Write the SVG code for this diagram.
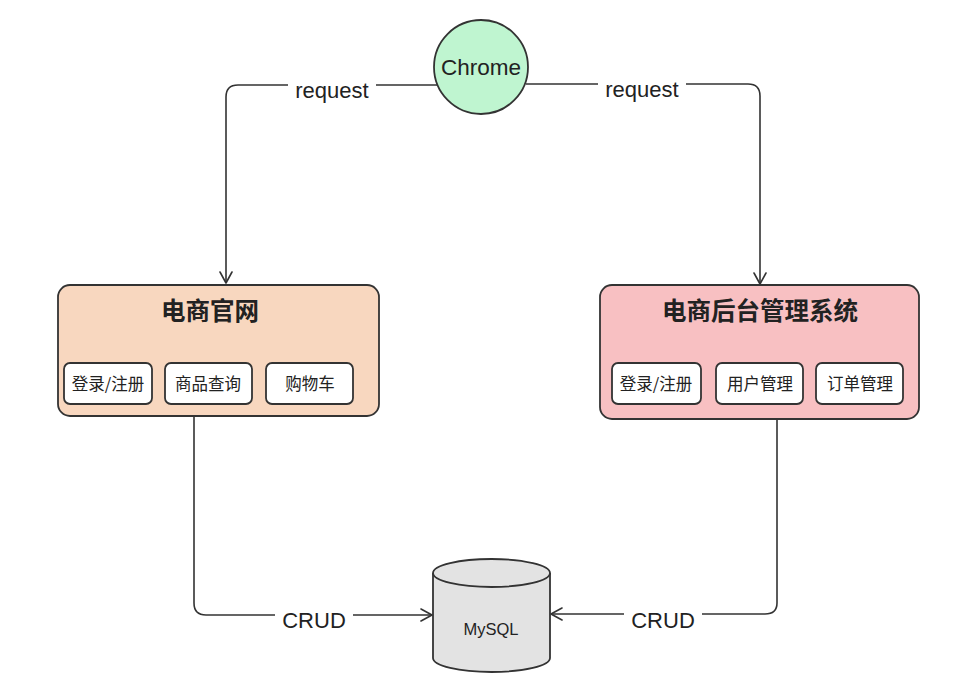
<svg xmlns="http://www.w3.org/2000/svg" width="960" height="696" viewBox="0 0 960 696">
<defs>
<marker id="arr" markerWidth="14" markerHeight="14" refX="12" refY="7" orient="auto" markerUnits="userSpaceOnUse">
<path d="M1,1 L12,7 L1,13" fill="none" stroke="#333" stroke-width="1.6" stroke-linecap="round" stroke-linejoin="round"/>
</marker>
<style>
.t{font-family:"Liberation Sans","Noto Sans CJK SC",sans-serif;fill:#222;text-anchor:middle}
.cj{font-family:"Noto Sans CJK SC","Liberation Sans",sans-serif;fill:#222;text-anchor:middle}
.line{fill:none;stroke:#333;stroke-width:1.6}
.sub{fill:#fff;stroke:#333;stroke-width:1.8}
.big{stroke:#333;stroke-width:1.8}
.lbl{font-size:22px}
.bg{fill:#fff}
</style>
</defs>
<rect width="960" height="696" fill="#fff"/>
<g id="connectors">
<path class="line" d="M437,85 L238,85 Q226,85 226,97 L226,283" marker-end="url(#arr)"/>
<path class="line" d="M526,84 L748,84 Q760,84 760,96 L760,284" marker-end="url(#arr)"/>
<path class="line" d="M194,417 L194,603 Q194,615 206,615 L432,615" marker-end="url(#arr)"/>
<path class="line" d="M777,419 L777,603 Q777,614 765,614 L551,614" marker-end="url(#arr)"/>
<rect class="bg" x="288" y="76" width="88" height="26"/>
<text class="t lbl" x="332" y="98">request</text>
<rect class="bg" x="598" y="75" width="88" height="26"/>
<text class="t lbl" x="642" y="97">request</text>
<rect class="bg" x="275" y="604" width="78" height="28"/>
<text class="t lbl" x="314" y="628">CRUD</text>
<rect class="bg" x="624" y="604" width="78" height="28"/>
<text class="t lbl" x="663" y="628">CRUD</text>
</g>
<g id="chrome">
<circle cx="481" cy="67" r="47" fill="#bff5d0" stroke="#333" stroke-width="1.8"/>
<text class="t" x="481" y="75" font-size="22.5">Chrome</text>
</g>
<g id="web">
<rect class="big" x="58" y="285" width="321" height="131" rx="12" fill="#f8d7bf"/>
<text class="cj" x="210" y="320" font-size="24.5" font-weight="bold">电商官网</text>
<rect class="sub" x="64" y="363" width="88" height="41" rx="6"/>
<text class="cj" x="108" y="390" font-size="16.5">登录/注册</text>
<rect class="sub" x="165" y="363" width="87" height="41" rx="6"/>
<text class="cj" x="208" y="390" font-size="16.5">商品查询</text>
<rect class="sub" x="266" y="363" width="87" height="41" rx="6"/>
<text class="cj" x="310" y="390" font-size="16.5">购物车</text>
</g>
<g id="admin">
<rect class="big" x="600" y="285" width="319" height="134" rx="12" fill="#f8c0c2"/>
<text class="cj" x="760" y="320" font-size="24.5" font-weight="bold">电商后台管理系统</text>
<rect class="sub" x="612" y="363" width="89" height="41" rx="6"/>
<text class="cj" x="656" y="390" font-size="16.5">登录/注册</text>
<rect class="sub" x="716" y="363" width="87" height="41" rx="6"/>
<text class="cj" x="760" y="390" font-size="16.5">用户管理</text>
<rect class="sub" x="816" y="363" width="87" height="41" rx="6"/>
<text class="cj" x="860" y="390" font-size="16.5">订单管理</text>
</g>
<g id="mysql">
<path d="M433,573 L433,658 A58.5,14 0 0 0 550,658 L550,573" fill="#e3e3e3" stroke="#333" stroke-width="1.8"/>
<ellipse cx="491.5" cy="573" rx="58.5" ry="14" fill="#e3e3e3" stroke="#333" stroke-width="1.8"/>
<text class="t" x="491" y="635" font-size="16.5">MySQL</text>
</g>
</svg>
